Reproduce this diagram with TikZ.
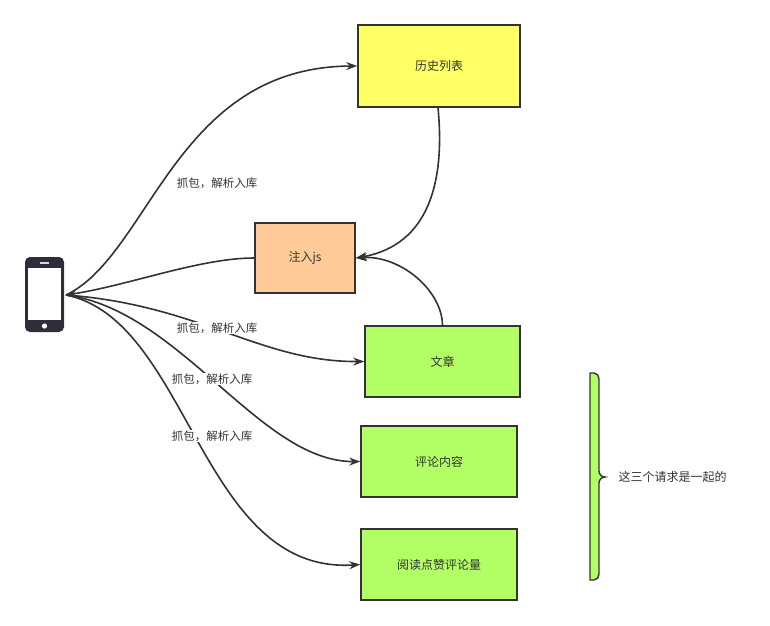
\documentclass[tikz,border=0pt]{standalone}
\usepackage{fontspec}
\setmainfont{Noto Sans CJK SC}
\usetikzlibrary{arrows.meta}
\definecolor{ylw}{HTML}{FFFF66}
\definecolor{org}{HTML}{FFCC99}
\definecolor{grn}{HTML}{B3FF66}
\definecolor{edge}{HTML}{333333}
\definecolor{txt}{HTML}{333333}
\definecolor{phonec}{HTML}{2E2E3A}
\tikzset{
  box/.style={draw=edge,line width=1.5pt,minimum width=#1,inner sep=0,text=txt,font=\fontsize{12pt}{14pt}\selectfont},
  conn/.style={draw=edge,line width=1.6pt,-{Stealth[length=11pt,width=8pt]}},
  lbl/.style={fill=white,inner sep=1pt,text=txt,font=\fontsize{11.5pt}{13pt}\selectfont}
}
\begin{document}
\begin{tikzpicture}[x=1pt,y=-1pt]
\useasboundingbox (0,0) rectangle (770,625);
% phone
\fill[phonec,rounded corners=5pt] (25,257) rectangle (64,332);
\fill[white] (28,268) rectangle (61,320);
\fill[white] (44.5,326) circle (2.6);
\fill[white!70!gray] (40,262) rectangle (49,263.5);
\coordinate (ph) at (66,295);
\node[box=162pt,minimum height=82pt,fill=ylw] (hist) at (439,66) {历史列表};
\node[box=100pt,minimum height=70pt,fill=org] (js) at (305,258) {注入js};
\node[box=155pt,minimum height=71pt,fill=grn] (art) at (442.5,361.5) {文章};
\node[box=156pt,minimum height=71pt,fill=grn] (cmt) at (439,461.5) {评论内容};
\node[box=156pt,minimum height=71pt,fill=grn] (read) at (439,564.5) {阅读点赞评论量};
\draw[conn] (ph) .. controls (150,255) and (175,67) .. (hist.west);
\node[lbl] at (217,183) {抓包，解析入库};
\draw[conn] (js.west) .. controls (200,258) and (130,285) .. (ph);
\draw[conn] ([xshift=-1pt]hist.south) .. controls (445,180) and (430,245) .. (js.east);
\draw[conn] (art.north) .. controls (442,290) and (400,255) .. (js.east);
\draw[conn] (ph) .. controls (200,305) and (260,362) .. (art.west);
\node[lbl] at (217,328) {抓包，解析入库};
\draw[conn] (ph) .. controls (180,310) and (260,462) .. (cmt.west);
\node[lbl] at (212,379) {抓包，解析入库};
\draw[conn] (ph) .. controls (190,320) and (200,575) .. (read.west);
\node[lbl] at (212,436) {抓包，解析入库};
% brace
\draw[edge,line width=1.4pt,fill=grn] (590,373) -- (594,373) to[out=0,in=90] (599,379) -- (599,471) to[out=-90,in=180] (605,477) to[out=180,in=90] (599,483) -- (599,574) to[out=-90,in=0] (594,580) -- (590,580) -- cycle;
\node[text=txt,font=\fontsize{12pt}{14pt}\selectfont,anchor=west] (note) at (615,477) {这三个请求是一起的};
\end{tikzpicture}
\end{document}
